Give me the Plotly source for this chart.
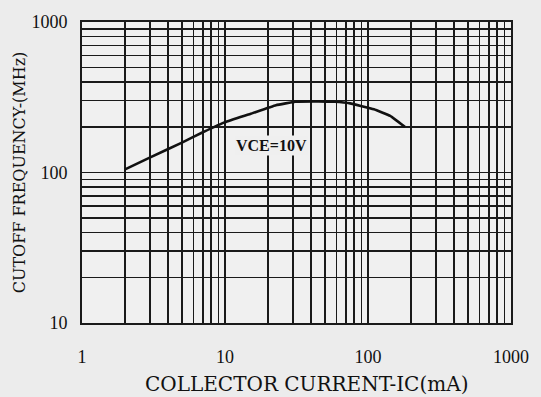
import math
import plotly.graph_objects as go

# Data (log-log curve)
ic_ma = [2, 3, 5, 7, 10, 15, 22.7, 31, 45, 58.5, 75, 89, 110, 143, 181]
ft_mhz = [105, 126, 158, 185, 216, 245, 280, 295, 297, 295, 288, 277, 263, 238, 201]

x_tickvals = [1, 10, 100, 1000]
x_ticktext = ["1", "10", "100", "1000"]
y_tickvals = [10, 100, 1000]
y_ticktext = ["10", "100", "1000"]

label_text = "VCE=10V"
label_x = 21.3
label_y = 151

x_title = "COLLECTOR CURRENT-IC(mA)"
y_title = "CUTOFF FREQUENCY-(MHz)"

font_family = "Liberation Serif"
grid_col = "#1a1a1a"
ink = "#111111"

fig = go.Figure()
fig.add_trace(go.Scatter(
    x=ic_ma, y=ft_mhz, mode="lines",
    line=dict(color=ink, width=2.6, shape="spline", smoothing=0.3),
    showlegend=False, hoverinfo="skip",
))

# annotations on log axes are positioned in log10 units
fig.add_annotation(
    x=math.log10(label_x), y=math.log10(label_y), xref="x", yref="y",
    text="<b>" + label_text + "</b>",
    showarrow=False, font=dict(family=font_family, size=16, color=ink),
    bgcolor="#efefef", borderpad=1,
)

# x-axis title (slightly right of centre, as in the reference)
fig.add_annotation(
    x=0.523, y=-0.201, xref="paper", yref="paper",
    xanchor="center", yanchor="middle",
    text=x_title, showarrow=False,
    font=dict(family="DejaVu Serif", size=20, color=ink),
)

fig.update_xaxes(
    type="log", range=[0, 3],
    tickvals=x_tickvals, ticktext=x_ticktext,
    ticks="", ticklabelstandoff=17,
    showgrid=True, gridcolor=grid_col, gridwidth=1.6,
    minor=dict(dtick="D1", showgrid=True, gridcolor=grid_col, gridwidth=1.5, ticks=""),
    showline=True, linecolor=grid_col, linewidth=1.8, mirror=True,
    zeroline=False,
    tickfont=dict(family=font_family, size=18, color=ink),
)
fig.update_yaxes(
    type="log", range=[1, 3],
    tickvals=y_tickvals, ticktext=y_ticktext,
    ticks="", ticklabelstandoff=9,
    showgrid=True, gridcolor=grid_col, gridwidth=1.6,
    minor=dict(dtick="D1", showgrid=True, gridcolor=grid_col, gridwidth=1.5, ticks=""),
    showline=True, linecolor=grid_col, linewidth=1.8, mirror=True,
    zeroline=False,
    tickfont=dict(family=font_family, size=18, color=ink),
    title=dict(text=y_title, standoff=2,
               font=dict(family="DejaVu Serif", size=16, color=ink)),
)

fig.update_layout(
    width=541, height=397,
    margin=dict(l=82, r=21, t=20, b=74),
    paper_bgcolor="#ececec", plot_bgcolor="#f0f0f0",
)

fig.write_html(
    "out.html",
    config={"displayModeBar": False, "staticPlot": True},
    post_script="document.body.style.margin='0px';document.body.style.background='#ececec';",
)
